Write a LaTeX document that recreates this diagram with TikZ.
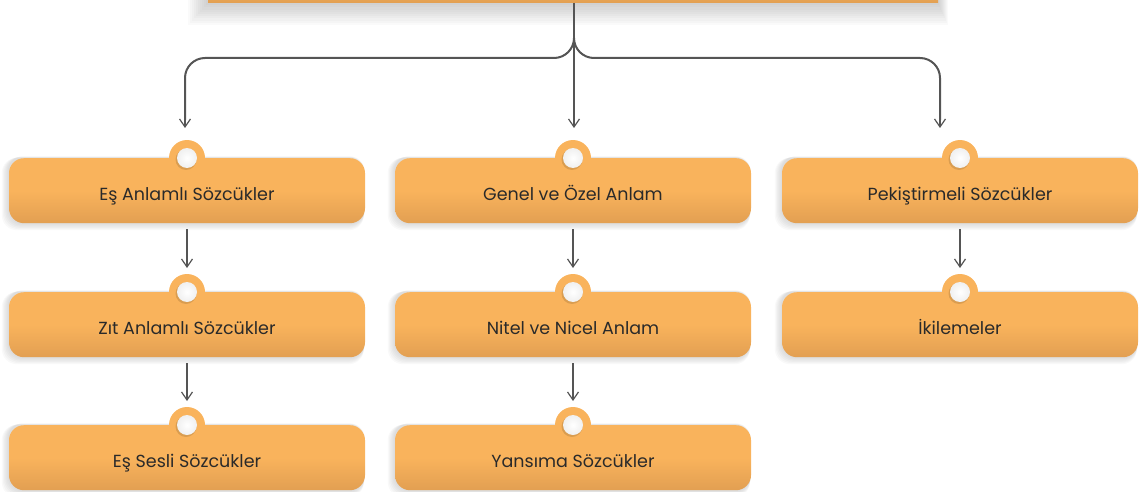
\documentclass[tikz,border=0pt]{standalone}
\usepackage{fontspec}
\setmainfont{Poppins}
\usetikzlibrary{arrows.meta}
\definecolor{boxtop}{HTML}{F9B35C}
\definecolor{boxbot}{HTML}{E29F52}
\definecolor{linec}{HTML}{555555}
\definecolor{txt}{HTML}{2A2A2A}
\tikzset{
  box/.style={rounded corners=15pt, minimum width=356pt, minimum height=65pt,
    top color=boxtop, bottom color=boxbot, middle color=boxtop, anchor=north,
    inner sep=0pt, text height=23pt, text depth=3pt,
    font=\fontsize{17.5}{20}\selectfont, text=txt},
  arr/.style={draw=linec, line width=1.4pt, -{Straight Barb[length=8pt,width=11pt,line width=1.2pt]}},
  trunk/.style={draw=linec, line width=2pt, rounded corners=20pt}
}
\newcommand{\shadowbox}[2]{%
  \foreach \k in {1,...,6}{
    \fill[black, opacity=0.025, rounded corners=15pt]
      (#1-178-\k*1.2, #2-2+\k*0.3) rectangle (#1+178-\k*0.2, #2+65+\k*1.2);
  }}
\newcommand{\knob}[1]{%
  \fill[boxtop] (#1) circle (18pt);
  \fill[black, opacity=0.12] ([xshift=-1pt,yshift=-1.5pt]#1) circle (10.5pt);
  \shade[inner color=white, outer color=gray!12] (#1) circle (10pt);
}
\begin{document}
\begin{tikzpicture}[x=1pt,y=-1pt]
\useasboundingbox (0,0) rectangle (1145,492);
% top box shadow and edge
\foreach \k in {1,...,10}{
  \fill[black, opacity=0.018] (208-\k*2,-10) rectangle (938+\k*1,3+\k*2.2);
}
\node[top color=boxtop, bottom color=boxbot, minimum width=730pt, minimum height=20pt, inner sep=0pt, anchor=south] (root) at (573,3) {};
% boxes
\foreach \cx/\ty in {187/158,573/158,960/158,187/292,573/292,960/292,187/425,573/425}{
  \shadowbox{\cx}{\ty}
}
\node[box] (a1) at (187,158) {Eş Anlamlı Sözcükler};
\node[box] (b1) at (573,158) {Genel ve Özel Anlam};
\node[box] (c1) at (960,158) {Pekiştirmeli Sözcükler};
\node[box] (a2) at (187,292) {Zıt Anlamlı Sözcükler};
\node[box] (b2) at (573,292) {Nitel ve Nicel Anlam};
\node[box] (c2) at (960,292) {İkilemeler};
\node[box] (a3) at (187,425) {Eş Sesli Sözcükler};
\node[box] (b3) at (573,425) {Yansıma Sözcükler};
\foreach \n in {a1,b1,c1,a2,b2,c2,a3,b3}{\knob{\n.north}}
% top connectors
\coordinate (split) at (574,58);
\coordinate (ta) at (185,128);
\coordinate (tb) at (574,128);
\coordinate (tc) at (940,128);
\draw[draw=linec, line width=2.6pt] (root.south -| split) -- (574,40);
\draw[trunk] (574,38) -- (split) -- (ta |- split) -- ([yshift=8pt]ta);
\draw[trunk] (574,38) -- (split) -- (tc |- split) -- ([yshift=8pt]tc);
\draw[arr] ([yshift=8pt]ta) -- (ta);
\draw[arr] ([yshift=8pt]tc) -- (tc);
\draw[arr] (574,38) -- (tb);
% vertical arrows
\draw[arr] ([yshift=-6pt]a1.south) -- ([yshift=24pt]a2.north);
\draw[arr] ([yshift=-6pt]a2.south) -- ([yshift=24pt]a3.north);
\draw[arr] ([yshift=-6pt]b1.south) -- ([yshift=24pt]b2.north);
\draw[arr] ([yshift=-6pt]b2.south) -- ([yshift=24pt]b3.north);
\draw[arr] ([yshift=-6pt]c1.south) -- ([yshift=24pt]c2.north);
\end{tikzpicture}
\end{document}
